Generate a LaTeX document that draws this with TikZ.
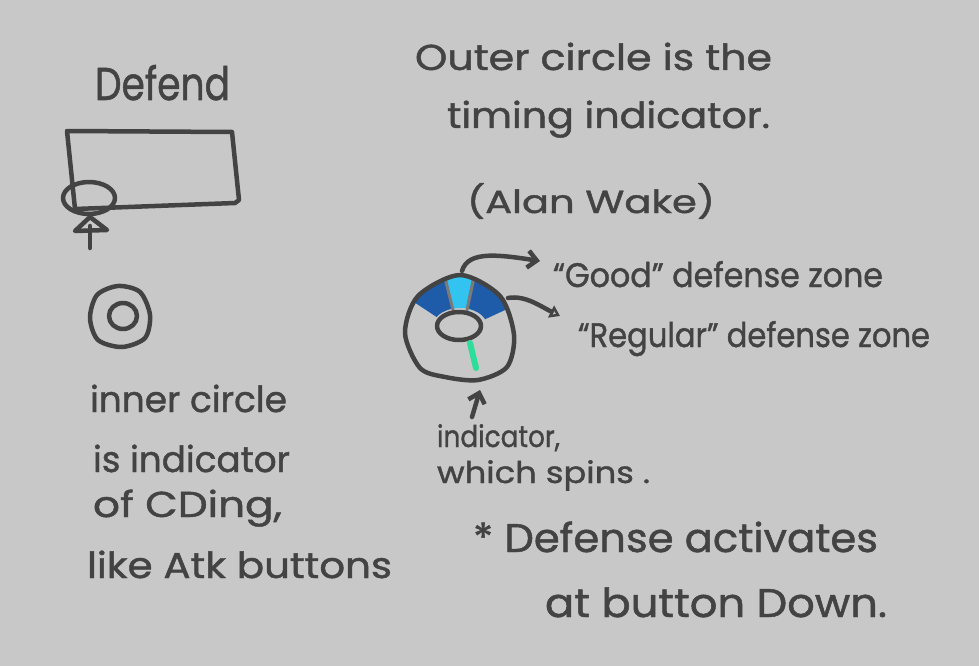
\documentclass[tikz,border=0pt]{standalone}
\usepackage{fontspec}
\setmainfont{Poppins}[FakeBold=1.2]
\usetikzlibrary{arrows.meta}
\definecolor{bg}{HTML}{C8C8C8}
\definecolor{ink}{HTML}{434343}
\definecolor{darkblue}{HTML}{1E5BA8}
\definecolor{lightblue}{HTML}{33C3F0}
\definecolor{needlecol}{HTML}{2FDD9A}
\definecolor{sepcol}{HTML}{7A7A7A}
\newsavebox\fitbox
\newcommand\fitw[3]{\sbox\fitbox{\fontsize{#2}{#2}\selectfont #3}\resizebox{#1pt}{\ht\fitbox}{\usebox\fitbox}}
\begin{document}
\begin{tikzpicture}[x=1pt,y=-1pt,line cap=round,line join=round,
  inkline/.style={draw=ink,line width=4.5pt},
  txt/.style={anchor=base west,inner sep=0pt,outer sep=0pt,text=ink},
  barb/.style={-{Straight Barb[length=9pt,width=17pt]}},
  tri/.style={-{Triangle[open,length=10pt,width=13pt]}}]
\fill[bg] (0,0) rectangle (979,666);
\useasboundingbox (0,0) rectangle (979,666);

% ---- left: Defend sketch
\node[txt] (defend) at (95,100) {\fitw{135}{46}{Defend}};
\draw[inkline] (67,131) -- (232,132) -- (239,200) -- (235,203) -- (75,209) -- cycle;
\draw[inkline] (89,198) ellipse [x radius=26,y radius=16];
\draw[inkline] (75,231) -- (90,217) -- (107,230) -- cycle;
\draw[inkline] (90,226) -- (90,248);
\draw[inkline] plot[smooth cycle] coordinates {(118,286) (140,292) (150,315) (145,338) (122,347) (98,340) (90,318) (97,295)};
\draw[inkline] (123,316) ellipse [x radius=14,y radius=13];

\node[txt] (l1) at (90,412) {\fitw{197}{36}{inner circle}};
\node[txt] (l2) at (93,472) {\fitw{197}{36}{is indicator}};
\node[txt] (l3) at (93,517) {\fitw{189}{36}{of CDing,}};
\node[txt] (l4) at (87,578) {\fitw{305}{36}{like Atk buttons}};

% ---- right: timing ring
\node[txt] (r1) at (415,70) {\fitw{357}{36}{Outer circle is the}};
\node[txt] (r2) at (447,128) {\fitw{323}{36}{timing indicator.}};
\node[txt] (r3) at (467,213) {\fitw{248}{32}{(Alan Wake)}};
\node[txt] (good) at (553,287) {\fitw{330}{34}{“Good” defense zone}};
\node[txt] (regular) at (578,347) {\fitw{352}{34}{“Regular” defense zone}};
\node[txt] (ind1) at (437,447) {\fitw{123}{30}{indicator,}};
\node[txt] (ind2) at (437,483) {\fitw{213}{30}{which spins .}};
\node[txt] (n1) at (473,552) {\fitw{405}{40}{* Defense activates}};
\node[txt] (n2) at (545,617) {\fitw{342}{40}{at button Down.}};

\begin{scope}
\clip plot[smooth cycle] coordinates {(460,275) (500,296) (514,335) (507,367) (478,380) (445,377) (420,368) (405,333) (418,296)};
\fill[darkblue] plot[domain=150:104,samples=20] ({460+90*cos(\x)},{326-90*sin(\x)}) -- plot[domain=104:150,samples=20] ({460+27*cos(\x)},{326-18*sin(\x)}) -- cycle;
\fill[lightblue] plot[domain=104:77,samples=20] ({460+90*cos(\x)},{326-90*sin(\x)}) -- plot[domain=77:104,samples=20] ({460+27*cos(\x)},{326-18*sin(\x)}) -- cycle;
\fill[darkblue] plot[domain=77:22,samples=20] ({460+90*cos(\x)},{326-90*sin(\x)}) -- plot[domain=22:77,samples=20] ({460+27*cos(\x)},{326-18*sin(\x)}) -- cycle;
\draw[sepcol,line width=3pt] (453,310) -- (438,250);
\draw[sepcol,line width=3pt] (467,310) -- (480,250);
\end{scope}
\draw[inkline] plot[smooth cycle] coordinates {(460,275) (500,296) (514,335) (507,367) (478,380) (445,377) (420,368) (405,333) (418,296)};
\draw[inkline,fill=bg] (459,326) ellipse [x radius=22,y radius=14];
\draw[needlecol,line width=6pt] (470,343) -- (476,368);

% ---- connectors
\coordinate (gs) at (462,271);
\coordinate (ge) at (540,261);
\coordinate (rs) at (508,298);
\coordinate (re) at (560,316);
\coordinate (is) at (472,417);
\coordinate (ie) at (480,390);
\draw[inkline,barb] (gs) .. controls (468,250) and (500,255) .. (ge);
\draw[inkline,tri] (rs) .. controls (525,295) and (540,306) .. (re);
\draw[inkline,barb] (is) -- (ie);
\end{tikzpicture}
\end{document}
